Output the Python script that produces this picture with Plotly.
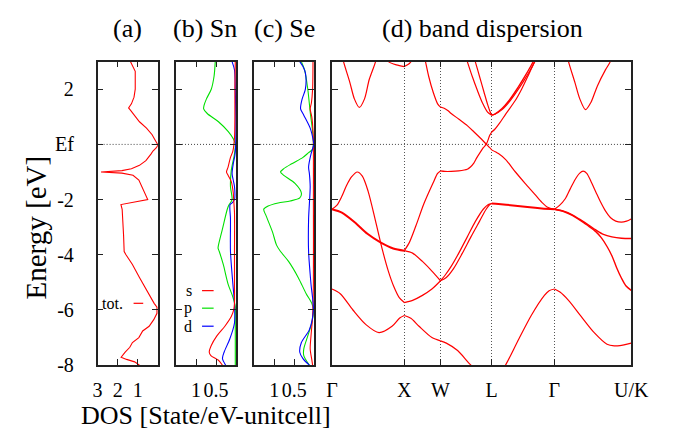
import plotly.graph_objects as go

W, H = 673, 433
FONT = "Liberation Serif"
RED, GREEN, BLUE = "#ff0000", "#00e000", "#0000ff"

# ---------------- energy axis ----------------
E_TICKS = [-8, -6, -4, -2, 0, 2]
E_TICKTEXT = ["-8", "-6", "-4", "-2", "Ef", "2"]
E_RANGE = [-8, 3]
EF = 0.0

# ---------------- (a) total DOS ----------------
tot_e = [3.0, 2.82, 2.65, 2.0, 1.71, 1.47, 1.39, 1.32, 1.24, 1.06, 0.82, 0.59, 0.35, 0.18, 0.06, -0.02,
         -0.12, -0.24, -0.35, -0.59, -0.76, -0.88, -0.95, -1.0, -1.04, -1.12, -1.29, -1.53, -1.76, -2.0,
         -2.18, -2.35, -3.29, -3.88, -4.0, -4.35, -4.82, -5.29, -5.76, -5.9, -6.12, -6.35, -6.59, -6.76,
         -6.88, -7.0, -7.18, -7.35, -7.53, -7.71, -7.79, -7.88, -8.0]
tot_dos = [1.37, 1.24, 1.13, 1.13, 1.19, 1.32, 1.40, 1.46, 1.37, 1.16, 0.92, 0.57, 0.29, 0.16, 0.05, 0.0,
           0.08, 0.25, 0.35, 0.60, 0.92, 1.32, 1.79, 2.83, 1.79, 1.24, 0.95, 0.79, 0.67, 0.51,
           1.84, 1.78, 1.71, 1.68, 1.59, 1.27, 0.92, 0.57, 0.19, 0.05, 0.05, 0.21, 0.44, 0.76,
           0.87, 0.95, 1.27, 1.40, 1.63, 1.83, 1.56, 1.16, 0.92]

# ---------------- (b) Sn partial DOS ----------------
sn_s_e = [3.0, 2.0, 1.0, 0.24, -0.24, -0.47, -0.82, -1.0, -1.12, -1.35, -1.76, -2.0, -2.47, -4.0, -5.06,
          -5.76, -6.0, -6.24, -6.59, -6.94, -7.29, -7.53, -7.65, -7.82, -8.0]
sn_s = [0.02, 0.03, 0.03, 0.04, 0.08, 0.14, 0.20, 0.24, 0.20, 0.12, 0.07, 0.06, 0.04, 0.04, 0.04,
        0.04, 0.06, 0.12, 0.28, 0.48, 0.62, 0.67, 0.63, 0.44, 0.34]
sn_p_e = [3.0, 2.47, 2.0, 1.65, 1.41, 1.29, 1.12, 0.82, 0.47, 0.18, 0.0, -0.35, -0.94, -1.53, -2.0,
          -2.2, -2.35, -3.06, -3.65, -3.76, -3.88, -4.35, -5.06, -5.53, -5.88, -6.24, -8.0]
sn_p = [0.52, 0.55, 0.62, 0.74, 0.80, 0.81, 0.72, 0.44, 0.20, 0.06, 0.02, 0.04, 0.12, 0.14, 0.10,
        0.18, 0.22, 0.34, 0.44, 0.45, 0.42, 0.32, 0.20, 0.08, 0.02, 0.02, 0.02]
sn_d_e = [3.0, 2.7, 2.0, 0.0, -0.4, -0.7, -1.06, -1.3, -1.53, -2.0, -2.12, -2.18, -2.7, -3.88, -5.06,
          -5.76, -6.47, -7.06, -7.53, -7.76, -8.0]
sn_d = [0.10, 0.04, 0.02, 0.01, 0.03, 0.07, 0.10, 0.07, 0.04, 0.04, 0.10, 0.15, 0.14, 0.14, 0.08,
        0.04, 0.04, 0.16, 0.30, 0.34, 0.26]

# ---------------- (c) Se partial DOS ----------------
se_s_e = [3.0, 2.0, 1.5, 1.29, 1.0, 0.5, 0.0, -2.0, -5.0, -6.24, -6.94, -7.41, -7.8, -8.0]
se_s = [0.03, 0.04, 0.07, 0.10, 0.06, 0.03, 0.02, 0.02, 0.02, 0.04, 0.08, 0.10, 0.06, 0.04]
se_p_e = [3.0, 2.7, 2.0, 1.18, 0.47, 0.0, -0.18, -0.3, -0.47, -0.7, -0.88, -1.0, -1.12, -1.41, -1.76,
          -1.94, -2.05, -2.12, -2.23, -2.35, -2.59, -3.18, -3.65, -3.88, -4.24, -4.82, -5.41, -5.76,
          -6.0, -6.47, -6.94, -7.41, -7.65, -8.0]
se_p = [0.32, 0.24, 0.16, 0.10, 0.04, 0.02, 0.04, 0.14, 0.28, 0.56, 0.76, 0.84, 0.76, 0.48, 0.32,
        0.36, 0.60, 0.90, 1.15, 1.26, 1.20, 1.04, 0.94, 0.84, 0.64, 0.40, 0.20, 0.06,
        0.02, 0.06, 0.16, 0.26, 0.26, 0.12]
se_d_e = [3.0, 2.82, 2.59, 2.0, 1.65, 1.29, 1.06, 0.59, 0.12, 0.0, -0.35, -0.82, -1.06, -1.53, -2.7,
          -3.88, -5.06, -6.0, -6.71, -7.18, -7.53, -7.76, -8.0]
se_d = [0.36, 0.28, 0.22, 0.22, 0.30, 0.34, 0.26, 0.10, 0.02, 0.01, 0.08, 0.14, 0.12, 0.10, 0.14,
        0.14, 0.08, 0.02, 0.12, 0.32, 0.36, 0.28, 0.12]

# ---------------- (d) band dispersion ----------------
K_POINTS = [0.0, 1.0, 1.5, 2.2071, 3.0731, 4.1337]
K_LABELS = ["Γ", "X", "W", "L", "Γ", "U/K"]

# Γ–X
gx1_k = [0.0, 0.115, 0.29, 0.47, 0.65, 0.83, 0.936, 1.0]
gx1_e = [-5.24, -5.41, -6.0, -6.53, -6.82, -6.59, -6.29, -6.2]
gx2_k = [0.0, 0.07, 0.137, 0.2, 0.27, 0.35, 0.42, 0.5, 0.6, 0.7, 0.78, 0.85, 0.93, 1.0]
gx2_e = [-2.35, -2.2, -1.88, -1.5, -1.18, -1.0, -1.15, -1.7, -2.75, -3.85, -4.6, -5.12, -5.55, -5.73]
gx3_k = [0.0, 0.137, 0.314, 0.49, 0.67, 0.847, 1.0]
gx3_e = [-2.35, -2.47, -2.82, -3.24, -3.55, -3.77, -3.85]
gx4_k = [0.13, 0.16, 0.248, 0.31, 0.378, 0.45, 0.515, 0.603, 0.63]
gx4_e = [3.35, 3.0, 2.24, 1.65, 1.34, 1.65, 2.35, 3.0, 3.35]
gx5_k = [0.74, 0.78, 0.89, 1.0]
gx5_e = [3.15, 3.0, 2.88, 2.82]
# X–W
xw1_k = [1.0, 1.09, 1.203, 1.381, 1.5]
xw1_e = [-6.2, -6.3, -6.59, -7.0, -7.12]
xw2_k = [1.0, 1.114, 1.25, 1.381, 1.5]
xw2_e = [-5.73, -5.65, -5.47, -5.24, -4.94]
xw3_k = [1.0, 1.114, 1.25, 1.381, 1.5]
xw3_e = [-3.85, -3.94, -4.24, -4.59, -4.94]
xw4_k = [1.0, 1.07, 1.16, 1.27, 1.4, 1.46, 1.5]
xw4_e = [-3.85, -3.55, -2.95, -2.15, -1.38, -1.05, -0.96]
xw5_k = [1.0, 1.07, 1.12]
xw5_e = [2.82, 2.93, 3.1]
xw6_k = [1.25, 1.292, 1.336, 1.4, 1.46, 1.5]
xw6_e = [3.4, 3.0, 2.47, 1.88, 1.47, 1.35]
# W–L
wl1_k = [1.5, 1.58, 1.736, 1.913, 2.05, 2.2071]
wl1_e = [-7.12, -7.2, -7.47, -7.98, -8.3, -8.5]
wl2_k = [1.5, 1.56, 1.647, 1.75, 1.87, 1.98, 2.09, 2.16, 2.2071]
wl2_e = [-4.94, -4.75, -4.42, -3.95, -3.35, -2.8, -2.35, -2.18, -2.14]
wl3_k = [1.5, 1.58, 1.68, 1.8, 1.92, 2.04, 2.13, 2.18, 2.2071]
wl3_e = [-4.94, -4.82, -4.5, -3.95, -3.35, -2.78, -2.35, -2.18, -2.14]
wl4_k = [1.5, 1.56, 1.647, 1.75, 1.87, 1.913, 1.96, 2.002, 2.05, 2.091, 2.135, 2.18, 2.2071]
wl4_e = [-0.96, -0.98, -0.98, -0.96, -0.9, -0.82, -0.68, -0.48, -0.28, -0.12, 0.02, 0.33, 0.45]
wl5_k = [1.5, 1.55, 1.6, 1.647, 1.75, 1.87, 1.96, 2.046, 2.135, 2.18, 2.2071]
wl5_e = [1.35, 1.31, 1.23, 1.12, 0.92, 0.68, 0.46, 0.24, 0.0, -0.12, -0.2]
wl6_k = [1.84, 1.87, 1.94, 2.01, 2.08, 2.15, 2.2071]
wl6_e = [3.25, 3.0, 2.45, 1.95, 1.5, 1.17, 1.06]
wl7_k = [1.95, 1.98, 2.04, 2.1, 2.15, 2.19, 2.2071]
wl7_e = [3.25, 3.0, 2.45, 1.9, 1.45, 1.15, 1.06]
# L–Γ
lg1_k = [2.2071, 2.3, 2.402, 2.58, 2.757, 2.935, 3.0, 3.0731]
lg1_e = [-8.5, -8.4, -7.98, -7.06, -6.18, -5.47, -5.3, -5.24]
lg2_k = [2.2071, 2.3, 2.5, 2.7, 2.9, 3.0731]
lg2_e = [-2.14, -2.16, -2.21, -2.27, -2.32, -2.35]
lg3_k = [2.2071, 2.3, 2.4, 2.535, 2.668, 2.8, 2.9, 2.98, 3.0731]
lg3_e = [-0.2, -0.33, -0.55, -1.0, -1.41, -1.8, -2.1, -2.28, -2.35]
lg4_k = [2.2071, 2.25, 2.313, 2.4, 2.535, 2.62, 2.712, 2.8, 2.85]
lg4_e = [0.45, 0.55, 0.76, 1.1, 1.6, 2.0, 2.5, 3.0, 3.3]
lg5_k = [2.2071, 2.25, 2.35, 2.45, 2.55, 2.65, 2.75, 2.82]
lg5_e = [1.06, 1.1, 1.3, 1.6, 1.98, 2.4, 2.85, 3.2]
lg6_e = [1.06, 1.09, 1.26, 1.54, 1.9, 2.3, 2.74, 3.08]
# Γ–U/K
gk1_k = [3.0731, 3.15, 3.268, 3.445, 3.623, 3.8, 3.9, 3.978, 4.1337]
gk1_e = [-5.24, -5.35, -5.65, -6.24, -6.82, -7.24, -7.3, -7.29, -7.2]
gk2_k = [3.0731, 3.14, 3.223, 3.29, 3.36, 3.42, 3.47, 3.52, 3.58, 3.65, 3.713, 3.78, 3.846, 3.92, 4.0, 4.07, 4.1337]
gk2_e = [-2.35, -2.22, -1.97, -1.62, -1.27, -1.05, -0.97, -1.05, -1.35, -1.75, -2.1, -2.42, -2.65, -2.78, -2.82, -2.78, -2.7]
gk3_k = [3.0731, 3.2, 3.32, 3.42, 3.55, 3.645, 3.75, 3.867, 4.0, 4.1337]
gk3_e = [-2.35, -2.42, -2.55, -2.71, -2.93, -3.1, -3.26, -3.35, -3.4, -3.41]
gk4_k = [3.0731, 3.2, 3.32, 3.42, 3.55, 3.645, 3.72, 3.8, 3.87, 3.93, 4.0, 4.06, 4.1337]
gk4_e = [-2.35, -2.43, -2.57, -2.74, -2.97, -3.16, -3.38, -3.7, -4.05, -4.45, -4.85, -5.12, -5.29]
gk5_k = [3.24, 3.268, 3.357, 3.424, 3.503, 3.579, 3.667, 3.778, 3.845, 3.87]
gk5_e = [3.35, 3.0, 2.24, 1.65, 1.26, 1.53, 2.12, 2.7, 3.0, 3.3]

band_curves = [
    (gx1_k, gx1_e, 1.2), (gx2_k, gx2_e, 1.2), (gx3_k, gx3_e, 2.0), (gx4_k, gx4_e, 1.2), (gx5_k, gx5_e, 1.2),
    (xw1_k, xw1_e, 1.2), (xw2_k, xw2_e, 1.2), (xw3_k, xw3_e, 1.2), (xw4_k, xw4_e, 1.2), (xw5_k, xw5_e, 1.2),
    (xw6_k, xw6_e, 1.2),
    (wl1_k, wl1_e, 1.2), (wl2_k, wl2_e, 1.2), (wl3_k, wl3_e, 1.2), (wl4_k, wl4_e, 1.2), (wl5_k, wl5_e, 1.2),
    (wl6_k, wl6_e, 1.2), (wl7_k, wl7_e, 1.2),
    (lg1_k, lg1_e, 1.2), (lg2_k, lg2_e, 2.0), (lg3_k, lg3_e, 1.2), (lg4_k, lg4_e, 1.2), (lg5_k, lg5_e, 1.4),
    (lg5_k, lg6_e, 1.2),
    (gk1_k, gk1_e, 1.2), (gk2_k, gk2_e, 1.2), (gk3_k, gk3_e, 1.4), (gk4_k, gk4_e, 1.4), (gk5_k, gk5_e, 1.2),
]

# ---------------- layout geometry (pixels) ----------------
def px(x):
    return x / W

def py(y):
    return 1 - y / H

Y_DOM = [py(366.5), py(55)]
X_DOMS = [[px(86.7), px(149.3)], [px(168), px(230.3)], [px(249), px(311.3)], [px(329.7), px(640)]]

fig = go.Figure()

def add_line(x, y, color, width, ax, shape="spline"):
    fig.add_trace(go.Scatter(x=x, y=y, mode="lines", xaxis=ax[0], yaxis=ax[1],
                             line=dict(color=color, width=width, shape=shape, smoothing=0.8),
                             showlegend=False, hoverinfo="skip"))

add_line(tot_dos, tot_e, RED, 1.1, ("x", "y"), shape="linear")
add_line(sn_p, sn_p_e, GREEN, 1.1, ("x2", "y2"))
add_line(sn_d, sn_d_e, BLUE, 1.1, ("x2", "y2"))
add_line(sn_s, sn_s_e, RED, 1.1, ("x2", "y2"))
add_line(se_p, se_p_e, GREEN, 1.1, ("x3", "y3"))
add_line(se_s, se_s_e, RED, 1.1, ("x3", "y3"))
add_line(se_d, se_d_e, BLUE, 1.1, ("x3", "y3"))
for k, e, w in band_curves:
    add_line(k, e, RED, w, ("x4", "y4"))

FRAME = "#222222"
tickfont = dict(family=FONT, size=20, color="black")

def yaxis(anchor, labels):
    return dict(domain=Y_DOM, range=E_RANGE, anchor=anchor, tickmode="array", tickvals=E_TICKS,
                ticktext=E_TICKTEXT, showticklabels=labels, ticks="inside", ticklen=6, tickwidth=1,
                tickcolor=FRAME, showline=True, linecolor=FRAME, linewidth=1.5, mirror="ticks",
                showgrid=False, zeroline=False, tickfont=tickfont, ticklabelstandoff=18,
                fixedrange=True)

def xaxis(dom, anchor, rng, tv, tt, grid=False):
    d = dict(domain=dom, range=rng, anchor=anchor, tickmode="array", tickvals=tv, ticktext=tt,
             ticks="inside", ticklen=6, tickwidth=1, tickcolor=FRAME, showline=True, linecolor=FRAME,
             linewidth=1.5, mirror="ticks", zeroline=False, tickfont=tickfont, showgrid=grid,
             ticklabelstandoff=6, fixedrange=True)
    if grid:
        d.update(gridcolor="#555555", gridwidth=1, griddash="1px,2px")
    return d

fig.update_layout(
    width=W, height=H, margin=dict(l=0, r=0, t=0, b=0),
    paper_bgcolor="white", plot_bgcolor="white",
    font=dict(family=FONT, color="black"),
    xaxis=xaxis(X_DOMS[0], "y", [3, 0], [3, 2, 1], ["3", "2", "1"]),
    xaxis2=xaxis(X_DOMS[1], "y2", [1.5, 0], [1, 0.5], ["1", "0.5"]),
    xaxis3=xaxis(X_DOMS[2], "y3", [1.5, 0], [1, 0.5], ["1", "0.5"]),
    xaxis4=xaxis(X_DOMS[3], "y4", [K_POINTS[0], K_POINTS[-1]], K_POINTS, K_LABELS, grid=True),
    yaxis=yaxis("x", True),
    yaxis2=yaxis("x2", False),
    yaxis3=yaxis("x3", False),
    yaxis4=yaxis("x4", False),
)

# Fermi level dotted lines
for xr, yr in [("x", "y"), ("x2", "y2"), ("x3", "y3"), ("x4", "y4")]:
    fig.add_shape(type="line", xref=f"{xr} domain", x0=0, x1=1, yref=yr, y0=EF, y1=EF,
                  line=dict(color="#444444", width=1, dash="1px,2px"), layer="below")

# panel titles
titles = [("(a)", 117.5), ("(b) Sn", 198.5), ("(c) Se", 280), ("(d) band dispersion", 486)]
for t, x in titles:
    fig.add_annotation(text=t, x=px(x), y=py(21), xref="paper", yref="paper", showarrow=False,
                       xanchor="center", yanchor="middle", font=dict(family=FONT, size=26, color="black"))

# axis titles
fig.add_annotation(text="Energy [eV]", x=px(23), y=py(225), xref="paper", yref="paper", showarrow=False,
                   textangle=-90, xanchor="center", yanchor="middle",
                   font=dict(family=FONT, size=29, color="black"))
fig.add_annotation(text="DOS [State/eV-unitcell]", x=px(199), y=py(418), xref="paper", yref="paper",
                   showarrow=False, xanchor="center", yanchor="middle",
                   font=dict(family=FONT, size=26, color="black"))

# keys
keys = [("tot.", RED, 114, 124, 134, 303), ("s", RED, 186, 195, 207, 290),
        ("p", GREEN, 186, 195, 207, 308), ("d", BLUE, 186, 195, 207, 326.5)]
for label, col, tx, l0, l1, yy in keys:
    fig.add_annotation(text=label, x=px(tx), y=py(yy), xref="paper", yref="paper", showarrow=False,
                       xanchor="right", yanchor="middle", borderpad=0,
                       font=dict(family=FONT, size=16, color="black"))
    fig.add_shape(type="line", xref="paper", yref="paper", x0=px(l0), x1=px(l1), y0=py(yy), y1=py(yy),
                  line=dict(color=col, width=1.2))

fig.write_html("out.html")
